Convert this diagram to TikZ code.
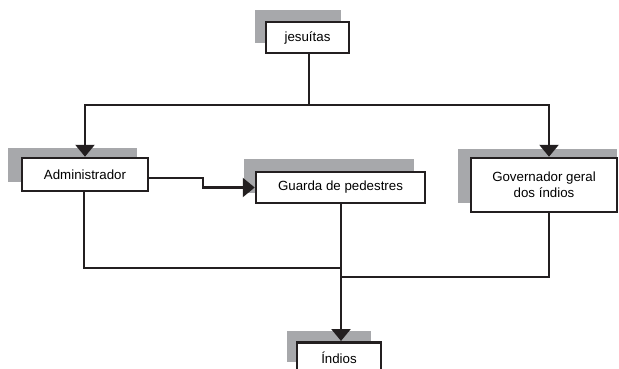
\documentclass[tikz,border=0pt]{standalone}
\usepackage{fontspec}
\setmainfont{Liberation Sans}
\usetikzlibrary{arrows.meta}
\definecolor{shadowgray}{HTML}{A7A8AB}
\definecolor{linedark}{HTML}{231F20}
\tikzset{
  shadowfill/.style={fill=shadowgray},
  boxnode/.style={draw=linedark, line width=2.5pt, fill=white, inner sep=0pt, font=\fontsize{13.3}{16}\selectfont, align=center},
  conn/.style={draw=linedark, line width=2.5pt},
  arr/.style={conn, -{Triangle[width=19pt,length=12pt]}}
}
\begin{document}
\begin{tikzpicture}[x=1pt,y=-1pt]
\useasboundingbox (0,0) rectangle (619,369);
% shadows
\fill[shadowfill] (255,10) rectangle (341,43);
\fill[shadowfill] (8,148) rectangle (137,182);
\fill[shadowfill] (244,159) rectangle (414,193);
\fill[shadowfill] (458,149) rectangle (617,203);
\fill[shadowfill] (287,331) rectangle (371,362);
% nodes
\node[boxnode, minimum width=83pt, minimum height=31pt] (jes) at (307.5,37.5) {jesuítas};
\node[boxnode, minimum width=126pt, minimum height=33pt] (adm) at (85,174.5) {Administrador};
\node[boxnode, minimum width=169pt, minimum height=31pt] (gua) at (340.5,187.5) {Guarda de pedestres};
\node[boxnode, minimum width=146pt, minimum height=54pt] (gov) at (544,185) {Governador geral\\dos índios};
\node[boxnode, minimum width=84pt, minimum height=34pt, anchor=north] (ind) at (339,341) {\raisebox{4pt}{Índios}};
% helper coordinates
\coordinate (jsplit) at (309,105);
\coordinate (admtop) at (adm.north);
\coordinate (govtop) at (549,0 |- gov.north);
\coordinate (govbot) at (549,0 |- gov.south);
\coordinate (admbot) at (84,0 |- adm.south);
\coordinate (guabot) at (341,0 |- gua.south);
\coordinate (indtop) at (341,0 |- ind.north);
\coordinate (admout) at ([yshift=-3.5pt]adm.east);
\coordinate (bend) at (203,178);
% connectors
\draw[conn] (jes.south -| jsplit) -- (jsplit);
\draw[arr] (jsplit) -| (admtop);
\draw[arr] (jsplit) -| (govtop);
\draw[arr] (admout) -- (bend) |- (gua.west);
\draw[conn] (admbot) |- (341,268);
\draw[conn] (govbot) |- (341,277);
\draw[arr] (guabot) -- (indtop);
\end{tikzpicture}
\end{document}
